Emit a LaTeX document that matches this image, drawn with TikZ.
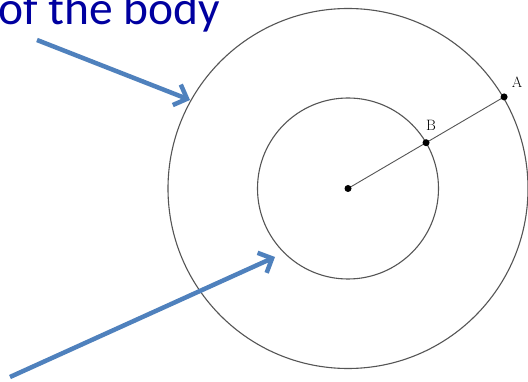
\documentclass[tikz,border=0pt]{standalone}
\usepackage{fontspec}
\newfontfamily\calib{Carlito}
\usetikzlibrary{arrows.meta,calc}
\definecolor{titleblue}{RGB}{0,0,160}
\definecolor{arrowblue}{RGB}{79,129,189}
\definecolor{circgray}{RGB}{85,85,85}
\tikzset{
  ring/.style={draw=circgray, line width=1.1pt},
  radius line/.style={draw=circgray, line width=0.9pt},
  dotmark/.style={circle, fill=black, inner sep=0pt, minimum size=7pt},
  ptlabel/.style={font=\fontsize{15}{15}\selectfont, inner sep=0pt},
  bluearrow/.style={draw=arrowblue, line width=4.5pt,
    -{Straight Barb[length=11pt, width=22pt, line width=4.5pt]}},
}
\begin{document}
\begin{tikzpicture}[x=1pt,y=-1pt]
\useasboundingbox (0,0) rectangle (528,382);
\fill[white] (0,0) rectangle (528,382);
% title text
\node[anchor=base west, inner sep=0pt, text=titleblue,
      font=\calib\fontsize{47.5}{50}\selectfont] (title) at (-2,25) {of the body};
% circles
\coordinate (O) at (348,188.5);
\draw[ring] (O) circle[radius=180];
\draw[ring] (O) circle[radius=90.5];
\coordinate (A) at ($(O)+(-30.4:181)$);
\coordinate (B) at ($(O)+(-30.4:90.5)$);
\draw[radius line] (O) -- (A);
\node[dotmark] (o) at (O) {};
\node[dotmark] (a) at (A) {};
\node[dotmark] (b) at (B) {};
\node[ptlabel] (la) at (517,82) {A};
\node[ptlabel] (lb) at (431,125) {B};
% arrows
\coordinate (t1) at (37,40);
\coordinate (h1) at (190,100);
\coordinate (t2) at (10,377);
\coordinate (h2) at (275,257);
\draw[bluearrow] (t1) -- (h1);
\draw[bluearrow] (t2) -- (h2);
\end{tikzpicture}
\end{document}
